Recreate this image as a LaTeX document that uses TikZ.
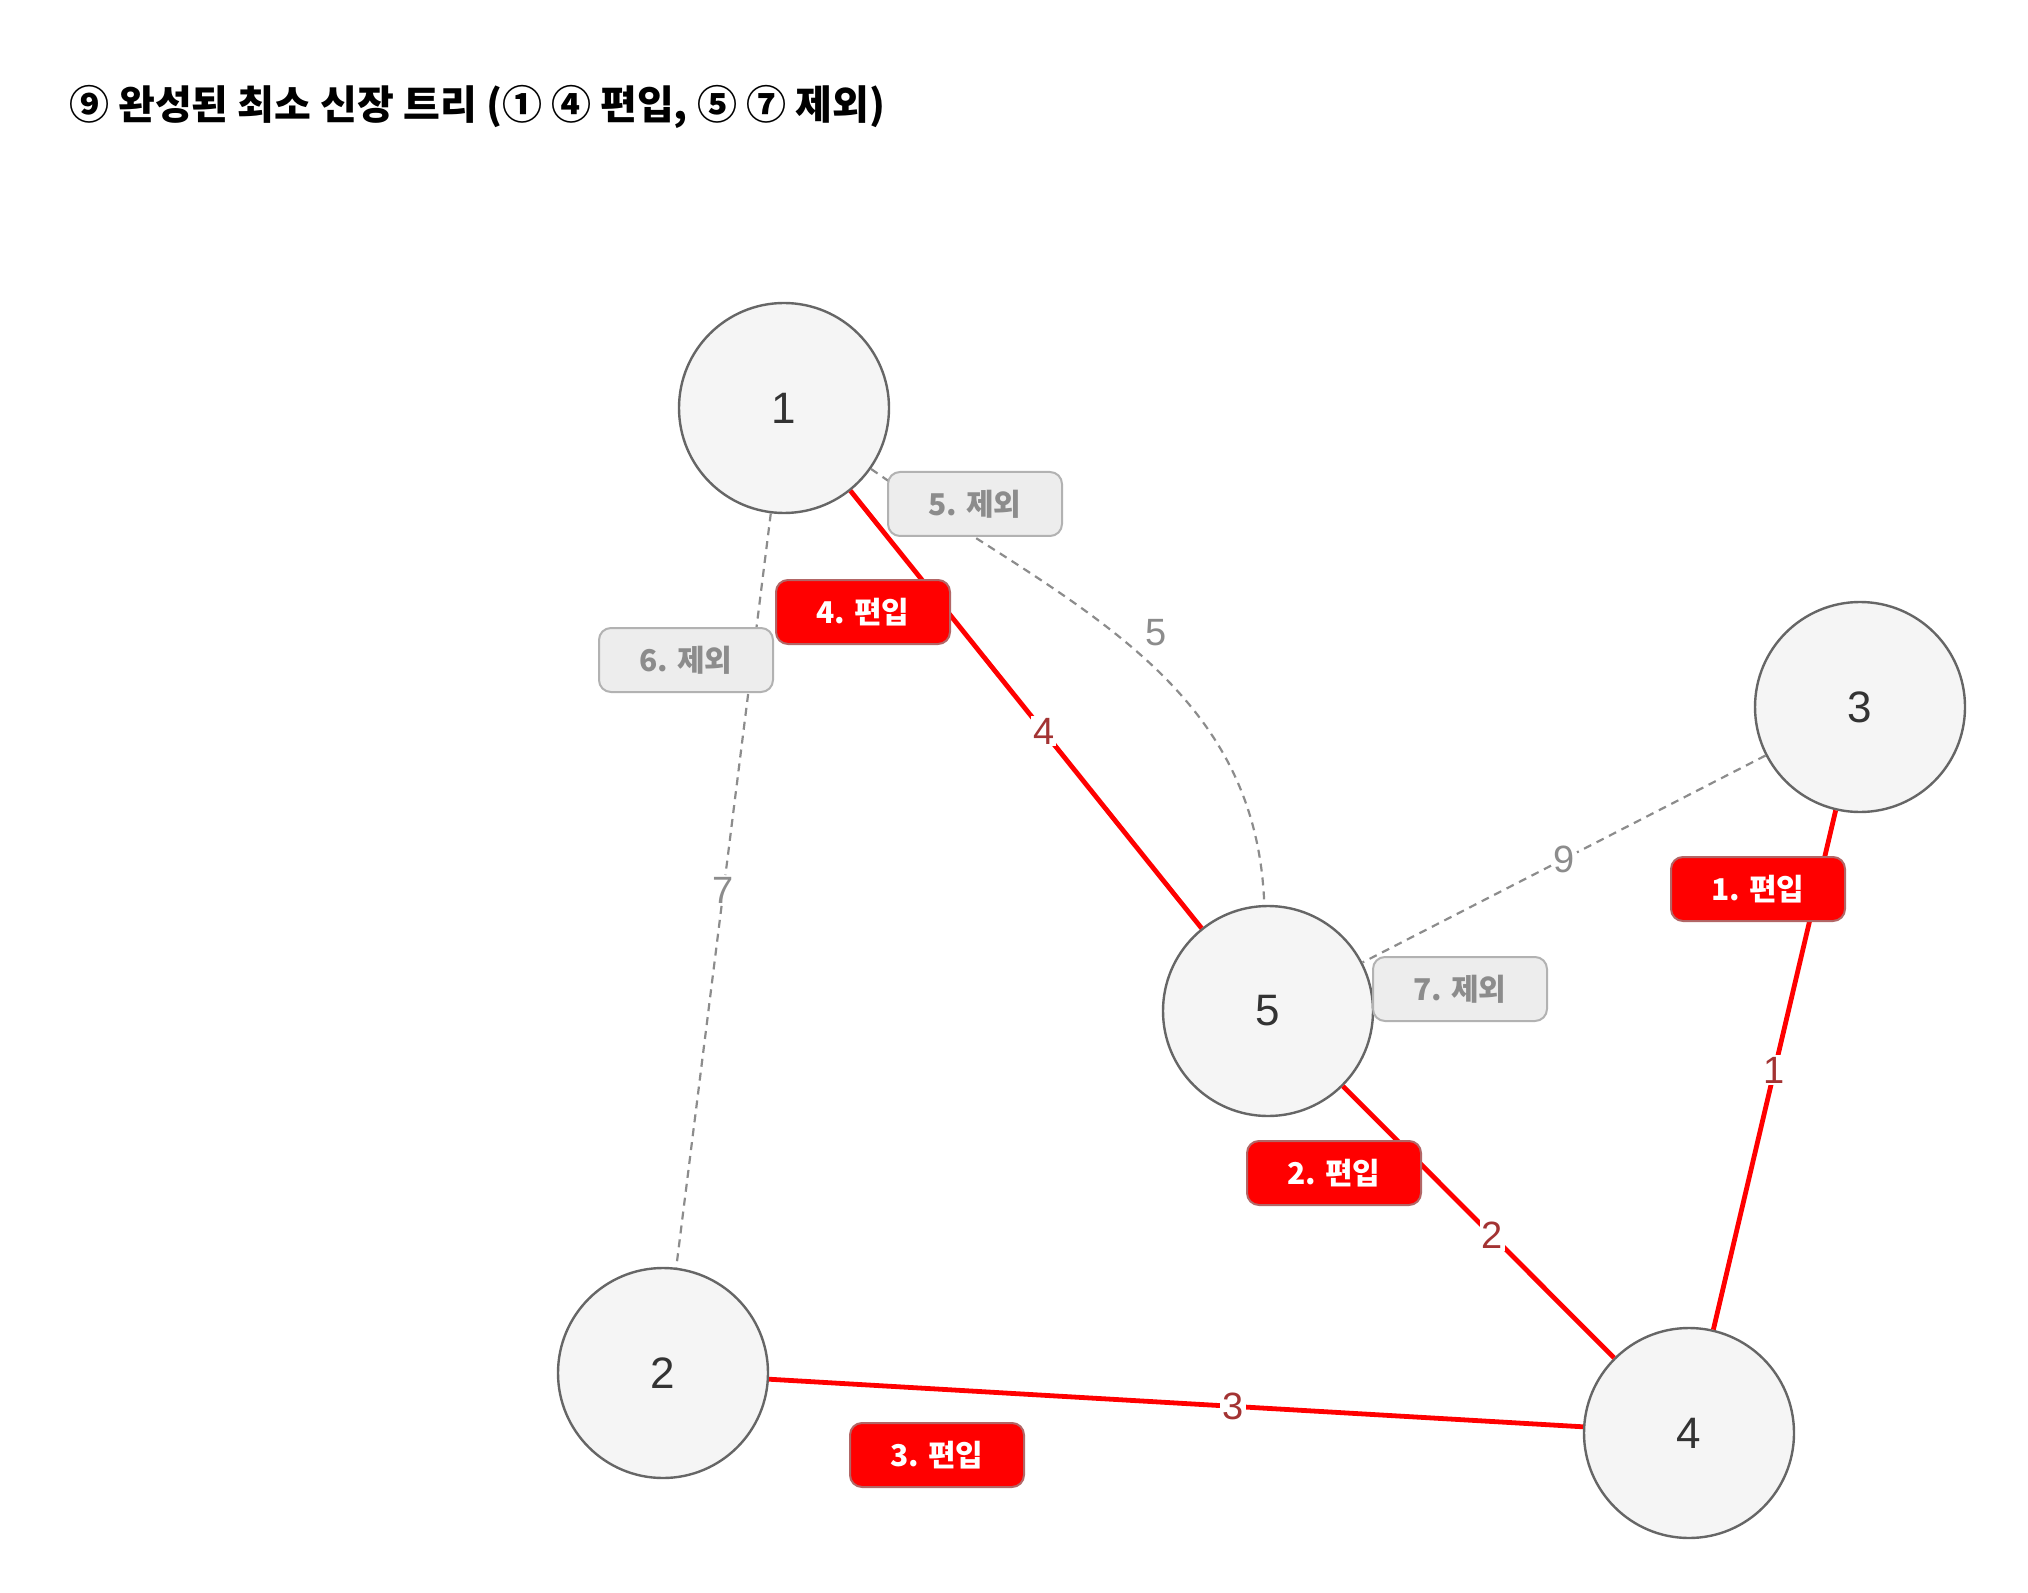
\documentclass[tikz,border=0pt]{standalone}
\usepackage{fontspec}
\setmainfont{Liberation Sans}
\newfontfamily\kr{Noto Sans CJK KR}
\begin{document}
\begin{tikzpicture}[x=0.5pt,y=-0.5pt,
  vtx/.style={circle,draw=black!60,fill=black!4,line width=1.2pt,minimum size=105pt,inner sep=0pt,font=\fontsize{22}{26}\selectfont,text=black!80},
  inc/.style={draw=red,line width=2.4pt},
  exc/.style={draw=black!45,line width=1.1pt,dash pattern=on 4pt off 3pt},
  wt/.style={fill=white,inner sep=1pt,font=\fontsize{19}{22}\selectfont},
  wtin/.style={wt,text=red!55!black!80},
  wtex/.style={wt,text=black!45},
  tagin/.style={rounded corners=6pt,fill=red,draw=red!50!black!60,line width=1pt,text=white,font=\kr\bfseries\fontsize{15}{18}\selectfont,minimum width=87pt,minimum height=32pt},
  tagex/.style={rounded corners=6pt,fill=black!7,draw=black!30,line width=1pt,text=black!45,font=\kr\bfseries\fontsize{15}{18}\selectfont,minimum width=87pt,minimum height=32pt}]
\useasboundingbox (0,0) rectangle (2028,1593);
\node[anchor=west,font=\kr\bfseries\fontsize{20}{24}\selectfont] (title) at (62,107) {⑨ 완성된 최소 신장 트리 (①~④ 편입, ⑤~⑦ 제외)};
\node[vtx] (n1) at (784,408) {1};
\node[vtx] (n2) at (663,1373) {2};
\node[vtx] (n3) at (1860,707) {3};
\node[vtx] (n4) at (1689,1433) {4};
\node[vtx] (n5) at (1268,1011) {5};
\begin{scope}[on background layer/.style={}]
\end{scope}
\path (n1) -- (n2) node[pos=0.5,wtex] (w7) {7};
\draw[exc] (n1) -- (w7) -- (n2);
\path (n3) -- (n5) node[pos=0.5,wtex] (w9) {9};
\draw[exc] (n3) -- (w9) -- (n5);
\draw[exc] (n1.-35) to[out=-35,in=92] coordinate[pos=0.45] (c5) (n5.92);
\node[wtex] (w5) at (1156,633) {5};
\draw[inc] (n3) -- (n4) node[pos=0.5,wtin] (w1) {1};
\draw[inc] (n5) -- (n4) node[pos=0.55,wtin] (w2) {2};
\draw[inc] (n2) -- (n4) node[pos=0.57,wtin] (w3) {3};
\draw[inc] (n1) -- (n5) node[pos=0.55,wtin] (w4) {4};
\node[tagex] (t5) at (975,504) {5. 제외};
\node[tagin] (t4) at (863,612) {4. 편입};
\node[tagex] (t6) at (686,660) {6. 제외};
\node[tagin] (t1) at (1758,889) {1. 편입};
\node[tagex] (t7) at (1460,989) {7. 제외};
\node[tagin] (t2) at (1334,1173) {2. 편입};
\node[tagin] (t3) at (937,1455) {3. 편입};
\end{tikzpicture}
\end{document}
